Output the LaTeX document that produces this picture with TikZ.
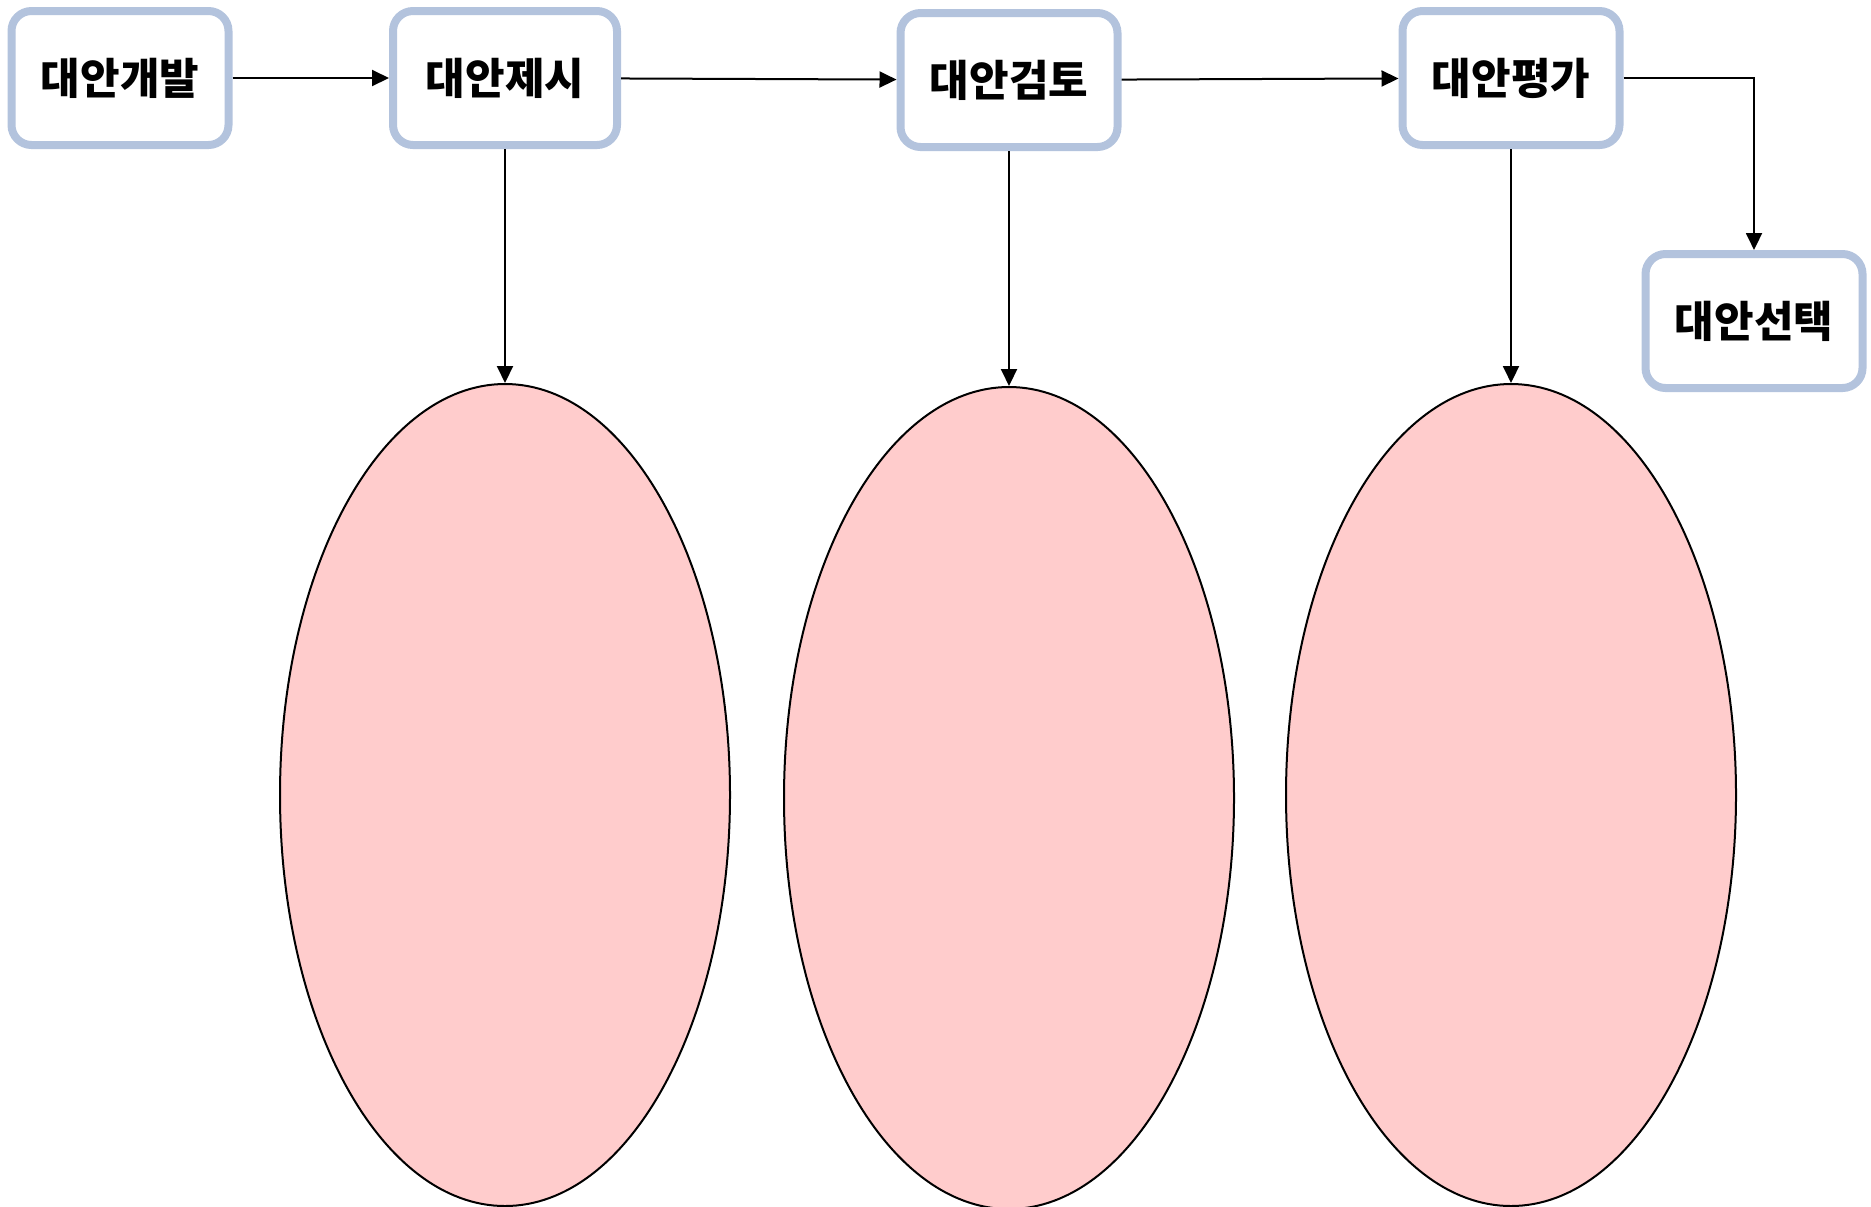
\documentclass[tikz,border=0pt]{standalone}
\usepackage{fontspec}
\newfontfamily\kr{Noto Sans CJK KR}
\usetikzlibrary{arrows.meta,shapes.geometric}
\definecolor{boxblue}{HTML}{B3C3DD}
\definecolor{pinkfill}{HTML}{FFCCCC}
\tikzset{
  stepbox/.style={draw=boxblue, line width=4pt, rounded corners=10pt, fill=white,
    minimum width=108.5pt, minimum height=67pt, inner sep=0pt,
    font=\kr\bfseries\fontsize{21.5}{25}\selectfont},
  blob/.style={ellipse, draw=black, line width=1pt, fill=pinkfill,
    minimum width=225pt, minimum height=411pt, inner sep=0pt},
  conn/.style={draw=black, line width=1pt, -{Triangle[length=8.5pt,width=8pt]}}
}
\begin{document}
\begin{tikzpicture}[x=0.5pt,y=-0.5pt]
\useasboundingbox (0,0) rectangle (1871,1206);
\node[stepbox] (a) at (120,78) {대안개발};
\node[stepbox, minimum width=112pt] (b) at (505,78) {대안제시};
\node[stepbox] (c) at (1009,80) {대안검토};
\node[stepbox] (d) at (1511,78) {대안평가};
\node[stepbox] (e) at (1754,321) {대안선택};
\node[blob] (e1) at (505,795) {};
\node[blob] (e2) at (1009,798) {};
\node[blob] (e3) at (1511,795) {};
\draw[conn] (a) -- (b);
\draw[conn] (b) -- (c);
\draw[conn] (c) -- (d);
\draw[conn] (d.east) -| (e.north);
\draw[conn] (b) -- (e1);
\draw[conn] (c) -- (e2);
\draw[conn] (d) -- (e3);
\end{tikzpicture}
\end{document}
